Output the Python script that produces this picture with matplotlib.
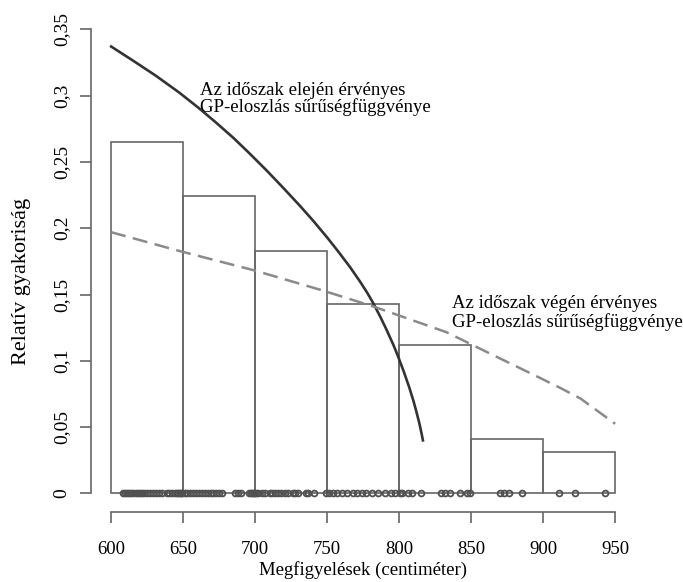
import numpy as np
import matplotlib.pyplot as plt

plt.rcParams['font.family'] = ['Liberation Serif', 'DejaVu Serif']
plt.rcParams['font.size'] = 13.5

# histogram: 50 cm bins from 600 to 950, relative frequencies
bin_edges = [600, 650, 700, 750, 800, 850, 900, 950]
rel_freq = [0.265, 0.224, 0.183, 0.143, 0.112, 0.041, 0.031]

# individual observations (cm), drawn as a rug at zero
obs = [608, 609.5, 611, 612.5, 614, 615.5, 617, 618.5, 620, 621.5, 623,
       625, 627, 629, 631, 633, 635, 638.5, 640, 642, 644, 645.5, 646.5,
       647.5, 648.5, 649.5,
       651, 653, 655, 657, 659, 661, 663, 665, 667, 669, 671, 673, 675, 677,
       686, 688, 690.5, 696, 697, 698, 699, 699.5,
       700.5, 702, 705, 707, 710, 712, 714, 716, 718, 721, 723, 726, 728,
       730, 735, 737, 741, 749,
       751, 754, 757, 760, 764, 768, 771, 774, 777, 781, 785, 790, 794, 797,
       800.5, 802, 806, 809, 815.5, 829, 832, 835, 842, 847, 849.5,
       870, 873, 876, 885,
       911, 922, 943]

# GP density at the start of the period
start_x = [600, 615, 631, 647, 661, 673, 685, 696, 708, 719, 731, 740, 750,
           758, 766, 773, 778, 782, 787, 791, 796, 799, 803, 807, 810, 812,
           814, 815.6, 816.5]
start_y = [0.337, 0.3265, 0.315, 0.3025, 0.2905, 0.2795, 0.268, 0.2565,
           0.2435, 0.231, 0.217, 0.206, 0.193, 0.182, 0.1705, 0.1595, 0.151,
           0.1435, 0.133, 0.124, 0.112, 0.104, 0.0925, 0.080, 0.0695, 0.0615,
           0.053, 0.045, 0.040]

# GP density at the end of the period
end_x = [600, 645, 700, 747, 782, 833, 863, 898, 912, 926, 950]
end_y = [0.197, 0.1835, 0.168, 0.153, 0.141, 0.1215, 0.1055, 0.087, 0.0795,
         0.0715, 0.0525]

xticks = [600, 650, 700, 750, 800, 850, 900, 950]
yticks = [0, 0.05, 0.1, 0.15, 0.2, 0.25, 0.3, 0.35]
ytick_labels = ['0', '0,05', '0,1', '0,15', '0,2', '0,25', '0,3', '0,35']

gray = '#666666'

fig = plt.figure(figsize=(6.83, 5.82), dpi=100)
ax = fig.add_axes([0.1332, 0.1203, 0.797, 0.8613])

widths = np.diff(bin_edges)
ax.bar(bin_edges[:-1], rel_freq, width=widths, align='edge',
       facecolor='none', edgecolor=gray, linewidth=1.2)

ax.plot(obs, np.zeros(len(obs)), 'o', markersize=4.2, markerfacecolor='none',
        markeredgecolor='#505050', markeredgewidth=1.3, clip_on=False)

ax.plot(start_x, start_y, color='#333333', linewidth=1.9)
ax.plot(end_x, end_y, color='#8a8a8a', linewidth=1.8, linestyle=(0, (6, 3)))

ax.text(661.4, 0.2974, 'Az időszak elején érvényes\nGP-eloszlás sűrűségfüggvénye',
        va='center', ha='left', linespacing=1.0)
ax.text(836.4, 0.136, 'Az időszak végén érvényes\nGP-eloszlás sűrűségfüggvénye',
        va='center', ha='left', linespacing=1.05)

ax.set_xlim(586, 964)
ax.set_ylim(-0.014, 0.364)

for side in ['top', 'right']:
    ax.spines[side].set_visible(False)
ax.spines['left'].set_bounds(0, 0.35)
ax.spines['bottom'].set_bounds(600, 950)
for side in ['left', 'bottom']:
    ax.spines[side].set_color(gray)
    ax.spines[side].set_linewidth(1.2)

ax.set_xticks(xticks)
ax.set_yticks(yticks)
ax.set_yticklabels(ytick_labels, rotation=90, va='center', fontsize=14)
ax.tick_params(axis='both', length=8, width=1.2, color=gray)
ax.tick_params(axis='x', pad=13)
ax.tick_params(axis='y', pad=7)

ax.set_xlabel('Megfigyelések (centiméter)', labelpad=2)
ax.set_ylabel('Relatív gyakoriság', fontsize=16)
ax.yaxis.set_label_coords(-0.11, 0.46)

fig.savefig('out.png', dpi=100)
